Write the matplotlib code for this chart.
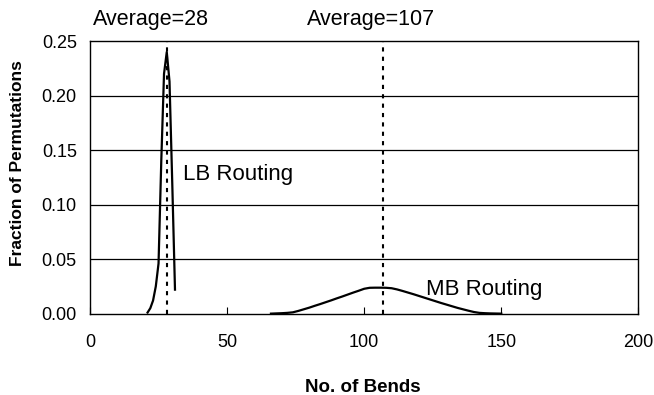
import matplotlib
matplotlib.use("Agg")
import matplotlib.pyplot as plt

# ---- data ----
lb_bends = [21, 22, 23, 24, 25, 26, 27, 28, 29, 30, 31]
lb_frac = [0.001, 0.005, 0.012, 0.025, 0.046, 0.14, 0.22, 0.24, 0.213, 0.12, 0.022]

mb_bends = [66, 68, 70, 72, 74, 76, 78, 80, 82, 84, 86, 88, 90, 92, 94, 96, 98, 100,
            102, 104, 106, 108, 110, 112, 114, 116, 118, 120, 122, 124, 126, 128, 130,
            132, 134, 136, 138, 140, 142, 144, 146, 148, 150]
mb_frac = [0.0, 0.0002, 0.0004, 0.0007, 0.0012, 0.0025, 0.0040, 0.0055, 0.0072, 0.0088,
           0.0105, 0.0122, 0.0140, 0.0157, 0.0175, 0.0193, 0.0210, 0.0228, 0.0237, 0.0238,
           0.0238, 0.0237, 0.0233, 0.0222, 0.0208, 0.0193, 0.0178, 0.0162, 0.0146, 0.0130,
           0.0114, 0.0098, 0.0083, 0.0068, 0.0053, 0.0040, 0.0027, 0.0015, 0.0007, 0.0004,
           0.0002, 0.0001, 0.0]

averages = [28, 107]
average_labels = ["Average=28", "Average=107"]
x_ticks = [0, 50, 100, 150, 200]
y_ticks = [0.00, 0.05, 0.10, 0.15, 0.20, 0.25]

plt.rcParams['font.family'] = ['Liberation Sans', 'DejaVu Sans']

fig = plt.figure(figsize=(6.54, 3.95), dpi=100)
ax = fig.add_axes([0.1376, 0.206, 0.8385, 0.690])

ax.set_xlim(0, 200)
ax.set_ylim(0, 0.25)

for y in y_ticks[1:-1]:
    ax.axhline(y, color='black', lw=0.9, zorder=1)

ax.plot(lb_bends, lb_frac, color='black', lw=1.6, zorder=3)
ax.plot(mb_bends, mb_frac, color='black', lw=1.6, zorder=3)

for a in averages:
    ax.plot([a, a], [0, 0.25], color='black', lw=1.5, ls=(0, (2.0, 2.5)), zorder=2)

ax.text(1.1, 0.2647, average_labels[0], ha='left', va='baseline', fontsize=15.5)
ax.text(79.3, 0.2647, average_labels[1], ha='left', va='baseline', fontsize=15.5)

ax.text(34.0, 0.1225, "LB Routing", ha='left', va='baseline', fontsize=16)
ax.text(122.5, 0.0170, "MB Routing", ha='left', va='baseline', fontsize=16)

ax.set_xticks(x_ticks)
ax.set_xticklabels([str(t) for t in x_ticks])
ax.set_yticks(y_ticks)
ax.set_yticklabels([f"{t:.2f}" for t in y_ticks])
ax.tick_params(axis='x', direction='in', length=5, width=0.8, pad=15, labelsize=13)
ax.tick_params(axis='y', length=0, pad=9.5, labelsize=13)

for s in ax.spines.values():
    s.set_color('black')
    s.set_linewidth(1.0)

fig.text(363 / 654, 1 - 391.5 / 395, "No. of Bends", ha='center', va='baseline',
         fontsize=13.5, fontweight='bold')
fig.text(18 / 654, 1 - 163 / 395, "Fraction of Permutations", ha='center', va='center',
         rotation=90, fontsize=12.5, fontweight='bold')

fig.savefig("out.png", dpi=100)
